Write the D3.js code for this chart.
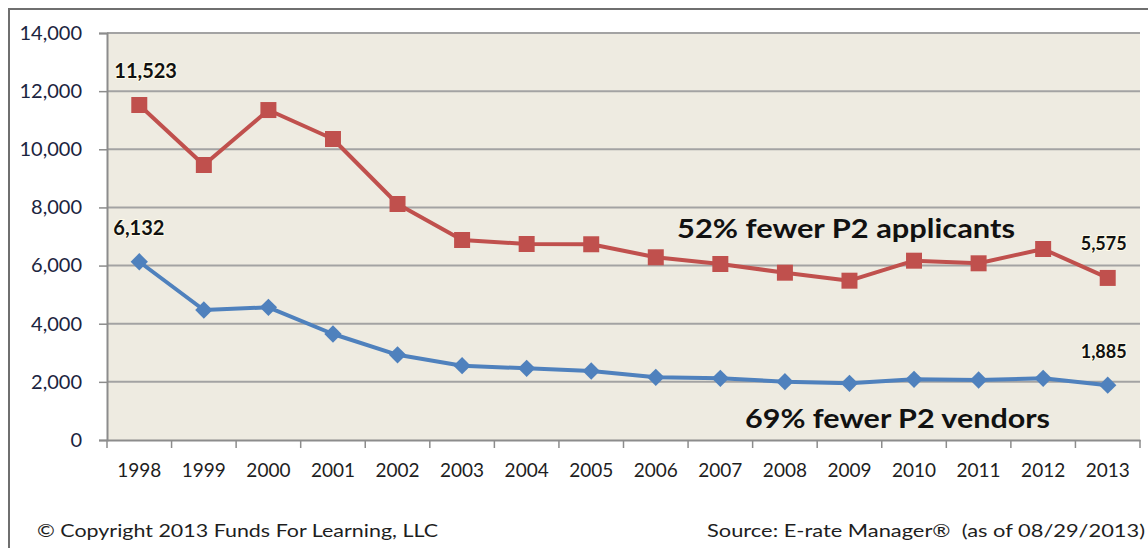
<!DOCTYPE html>
<html>
<head>
<meta charset="utf-8">
<script src="https://cdn.jsdelivr.net/npm/d3@7"></script>
<style>
  body { margin: 0; background: #fff; }
  svg { display: block; }
</style>
</head>
<body>
<svg id="chart" width="1148" height="548"></svg>
<script>
var years = ["1998", "1999", "2000", "2001", "2002", "2003", "2004", "2005",
             "2006", "2007", "2008", "2009", "2010", "2011", "2012", "2013"];
var applicants = [11523, 9460, 11350, 10354, 8118, 6880, 6742, 6733,
                  6285, 6054, 5755, 5480, 6168, 6078, 6570, 5575];
var vendors = [6132, 4472, 4565, 3646, 2930, 2556, 2466, 2374,
               2157, 2122, 2006, 1950, 2088, 2064, 2122, 1885];
var y_ticks = [0, 2000, 4000, 6000, 8000, 10000, 12000, 14000];

const RED = "#C0504D";
const BLUE = "#4F81BD";
const FONT = "Lato, 'Open Sans', sans-serif";

var svg = d3.select("svg#chart");
const PLOT_LEFT = 107, PLOT_RIGHT = 1140, PLOT_TOP = 33, PLOT_BOTTOM = 440;

var x = d3.scaleBand().domain(years).range([PLOT_LEFT, PLOT_RIGHT]);
var y = d3.scaleLinear().domain([0, 14000]).range([PLOT_BOTTOM, PLOT_TOP]);
var fmt = d3.format(",");

// outer frame
svg.append("path")
    .attr("d", "M9,560 L9,9 L1160,9")
    .attr("fill", "none")
    .style("stroke", "#6f6f6f")
    .style("stroke-width", 2);

// plot background
svg.append("rect")
    .attr("x", PLOT_LEFT)
    .attr("y", PLOT_TOP)
    .attr("width", PLOT_RIGHT - PLOT_LEFT)
    .attr("height", PLOT_BOTTOM - PLOT_TOP)
    .attr("fill", "#EEEBE1");

// gridlines
svg.append("g")
    .selectAll("line")
    .data(y_ticks.filter(d => d > 0))
    .join("line")
    .attr("x1", PLOT_LEFT)
    .attr("x2", PLOT_RIGHT)
    .attr("y1", d => y(d))
    .attr("y2", d => y(d))
    .style("stroke", "#a3a3a3")
    .style("stroke-width", 2);

// y axis
var yAxis = svg.append("g")
    .attr("transform", "translate(" + PLOT_LEFT + ",0)")
    .call(d3.axisLeft(y).tickValues(y_ticks).tickFormat(fmt).tickSize(8).tickPadding(17));
yAxis.select(".domain").style("stroke", "#8c8c8c").style("stroke-width", 2);
yAxis.selectAll(".tick line").style("stroke", "#8c8c8c").style("stroke-width", 1.5);
yAxis.selectAll("text")
    .style("font-family", FONT)
    .style("font-size", "20px")
    .attr("fill", "#1b2440");

// x axis
var xAxis = svg.append("g")
    .attr("transform", "translate(0," + PLOT_BOTTOM + ")")
    .call(d3.axisBottom(x).tickSize(0).tickPadding(24));
xAxis.select(".domain").style("stroke", "#8c8c8c").style("stroke-width", 2);
xAxis.selectAll("text")
    .style("font-family", FONT)
    .style("font-size", "19px")
    .attr("fill", "#1e1e1e");
xAxis.append("g")
    .selectAll("line")
    .data(years.concat(["end"]))
    .join("line")
    .attr("x1", (d, i) => PLOT_LEFT + i * x.step())
    .attr("x2", (d, i) => PLOT_LEFT + i * x.step())
    .attr("y1", 0)
    .attr("y2", 8)
    .style("stroke", "#8c8c8c")
    .style("stroke-width", 1.5);

var cx = d => x(d) + x.bandwidth() / 2;

function drawSeries(values, color, symbol, size) {
    var pts = values.map((v, i) => [cx(years[i]), y(v)]);
    svg.append("path")
        .attr("d", d3.line()(pts))
        .attr("fill", "none")
        .style("stroke", color)
        .style("stroke-width", 4)
        .style("stroke-linejoin", "round");
    svg.append("g")
        .selectAll("path")
        .data(pts)
        .join("path")
        .attr("transform", d => "translate(" + d[0] + "," + d[1] + ")" + (symbol === "diamond" ? " rotate(45)" : ""))
        .attr("d", d3.symbol().type(d3.symbolSquare).size(size))
        .attr("fill", color);
}

drawSeries(applicants, RED, "square", 256);
drawSeries(vendors, BLUE, "diamond", 150);

// value labels
var value_labels = [
    { "value": applicants[0], "year": "1998", "dx": -25, "dy": -27, "size": 20 },
    { "value": vendors[0], "year": "1998", "dx": -26, "dy": -27, "size": 20 },
    { "value": applicants[15], "year": "2013", "dx": -27, "dy": -28, "size": 18 },
    { "value": vendors[15], "year": "2013", "dx": -27, "dy": -27, "size": 18 }
];
svg.append("g")
    .selectAll("text")
    .data(value_labels)
    .join("text")
    .attr("x", d => cx(d.year) + d.dx)
    .attr("y", d => y(d.value) + d.dy)
    .style("font-family", FONT)
    .style("font-weight", "bold")
    .style("font-size", d => d.size + "px")
    .style("paint-order", "stroke")
    .style("stroke", "#fffbe8")
    .style("stroke-width", 2)
    .attr("fill", "#111")
    .text(d => fmt(d.value));

// annotations
var notes = [
    { "text": "52% fewer P2 applicants", "x": 677, "y": 238, "w": 338 },
    { "text": "69% fewer P2 vendors", "x": 745, "y": 428, "w": 305 }
];
svg.append("g")
    .selectAll("text")
    .data(notes)
    .join("text")
    .attr("x", d => d.x)
    .attr("y", d => d.y)
    .attr("textLength", d => d.w)
    .attr("lengthAdjust", "spacingAndGlyphs")
    .style("font-family", FONT)
    .style("font-weight", "bold")
    .style("font-size", "27px")
    .attr("fill", "#111")
    .text(d => d.text);

// footer
svg.append("text")
    .attr("x", 37)
    .attr("y", 537)
    .attr("textLength", 401)
    .attr("lengthAdjust", "spacingAndGlyphs")
    .style("font-family", FONT)
    .style("font-size", "18px")
    .attr("fill", "#1e1e1e")
    .text("\u00A9 Copyright 2013 Funds For Learning, LLC");

svg.append("text")
    .attr("x", 707)
    .attr("y", 537)
    .attr("textLength", 438)
    .attr("lengthAdjust", "spacingAndGlyphs")
    .style("font-family", FONT)
    .style("font-size", "18px")
    .attr("fill", "#1e1e1e")
    .style("white-space", "pre")
    .text("Source: E-rate Manager\u00AE  (as of 08/29/2013)");
</script>
</body>
</html>
